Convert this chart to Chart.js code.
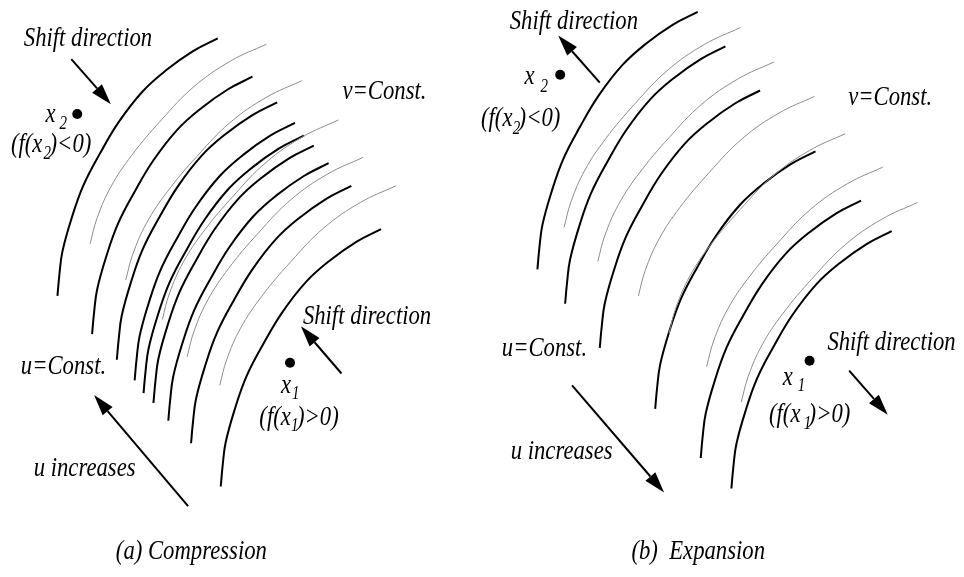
<!DOCTYPE html>
<html>
<head>
<meta charset="utf-8">
<script src="https://cdn.jsdelivr.net/npm/chart.js@4"></script>
<style>body{margin:0;background:#fff}</style>
</head>
<body>
<canvas id="diagram" width="964" height="577"></canvas>
<script>
// one thick arc and one thin arc, points read relative to the arc's top end
const thickShape = [[0,0],[-25,13],[-53,33],[-76,54],[-100,85],[-119,117],[-136,150],[-148,184],[-157,217],[-160,240],[-162,262]];
const thinShape = [[0,0],[-36,17],[-73,43],[-106,77],[-136,113],[-157,145],[-171,177],[-178,203]];

// top ends of the arcs in each panel
const leftThickTops = [[215,34],[250,73],[275,99],[293,120],[302,133],[312,143],[327,161],[350,184],[380,228]];
const leftThinTops = [[264,40],[300,77],[337,117],[362,155],[395,184]];
const rightThickTops = [[700,7],[728,42],[763,87],[819,149],[865,199],[896,230]];
const rightThinTops = [[743,23],[777,58],[818,93],[849,131],[887,165],[922,201]];

const dots = [[73,111],[288,364],[561,71],[813,362]];
// tail x, tail y, tip x, tip y
const arrows = [[67,55,107,101],[340,375,299,327],[185,510,90,397],[601,79,559,31],[853,372,892,417],[573,387,666,496]];

// text, x, baseline y, size
const labels = [
  ['Shift direction', 19, 42, 22.7],
  ['x', 41, 119, 22.7], ['2', 55, 126, 15],
  ['(f(x', 6, 150, 22.7], ['2', 39, 157, 15], [')<0)', 45, 150, 22.7],
  ['v=Const.', 341, 96, 22.7],
  ['Shift direction', 301, 325, 22.7],
  ['x', 279, 395, 22.7], ['1', 290, 401, 15],
  ['(f(x', 257, 427, 22.7], ['1', 289, 434, 15], [')>0)', 295, 427, 22.7],
  ['u=Const.', 16, 376, 22.7],
  ['u increases', 29, 479, 22.7],
  ['(a) Compression', 112, 564, 22.7],
  ['Shift direction', 510, 24, 22.7],
  ['x', 525, 80, 22.7], ['2', 541, 89, 15],
  ['(f(x', 481, 123, 22.7], ['2', 513, 131, 15], [')<0)', 519, 123, 22.7],
  ['v=Const.', 852, 102, 22.7],
  ['Shift direction', 831, 351, 22.7],
  ['x', 786, 387, 22.7], ['1', 801, 393, 15],
  ['(f(x', 772, 424, 22.7], ['1', 807, 431, 15], [')>0)', 812, 424, 22.7],
  ['u=Const.', 502, 357, 22.7],
  ['u increases', 511, 462, 22.7],
  ['(b)  Expansion', 633, 564, 22.7]
];

function arcSets(tops, shape, color, width) {
  return tops.map(([x0, y0]) => ({
    data: shape.map(([dx, dy]) => ({x: x0 + dx, y: y0 + dy})),
    showLine: true,
    borderColor: color,
    borderWidth: width,
    pointRadius: 0,
    tension: 0.4,
    fill: false
  }));
}

const datasets = [
  ...arcSets(leftThinTops, thinShape, '#8c8c8c', 1),
  ...arcSets(rightThinTops, thinShape, '#8c8c8c', 1),
  ...arcSets(leftThickTops, thickShape, '#000', 2),
  ...arcSets(rightThickTops, thickShape, '#000', 2),
  {
    data: dots.map(([x, y]) => ({x, y})),
    showLine: false,
    pointRadius: 5,
    pointBackgroundColor: '#000',
    pointBorderWidth: 0
  }
];

const extras = {
  id: 'extras',
  afterDatasetsDraw(chart) {
    const ctx = chart.ctx;
    const sx = chart.scales.x, sy = chart.scales.y;
    ctx.save();
    ctx.strokeStyle = '#000';
    ctx.fillStyle = '#000';
    ctx.lineWidth = 2;
    arrows.forEach(([x0, y0, x1, y1]) => {
      const ax = sx.getPixelForValue(x0), ay = sy.getPixelForValue(y0);
      const bx = sx.getPixelForValue(x1), by = sy.getPixelForValue(y1);
      const ang = Math.atan2(by - ay, bx - ax);
      const len = 21, half = 6.5;
      const hx = bx - len * Math.cos(ang), hy = by - len * Math.sin(ang);
      ctx.beginPath();
      ctx.moveTo(ax, ay);
      ctx.lineTo(hx, hy);
      ctx.stroke();
      ctx.beginPath();
      ctx.moveTo(bx, by);
      ctx.lineTo(hx + half * Math.sin(ang), hy - half * Math.cos(ang));
      ctx.lineTo(hx - half * Math.sin(ang), hy + half * Math.cos(ang));
      ctx.closePath();
      ctx.fill();
    });
    ctx.textBaseline = 'alphabetic';
    ctx.textAlign = 'left';
    labels.forEach(([t, x, y, size]) => {
      ctx.save();
      ctx.translate(sx.getPixelForValue(x), sy.getPixelForValue(y));
      ctx.scale(1, 1.2);
      ctx.font = 'italic ' + size + 'px "Liberation Serif", "Times New Roman", serif';
      ctx.fillText(t, 0, 0);
      ctx.restore();
    });
    ctx.restore();
  }
};

new Chart(document.getElementById('diagram').getContext('2d'), {
  type: 'scatter',
  data: {datasets},
  options: {
    responsive: false,
    animation: false,
    devicePixelRatio: 1,
    layout: {padding: 0},
    scales: {
      x: {type: 'linear', min: 0, max: 964, display: false},
      y: {type: 'linear', min: 0, max: 577, reverse: true, display: false}
    },
    plugins: {
      legend: {display: false},
      tooltip: {enabled: false}
    }
  },
  plugins: [extras]
});
</script>
</body>
</html>
